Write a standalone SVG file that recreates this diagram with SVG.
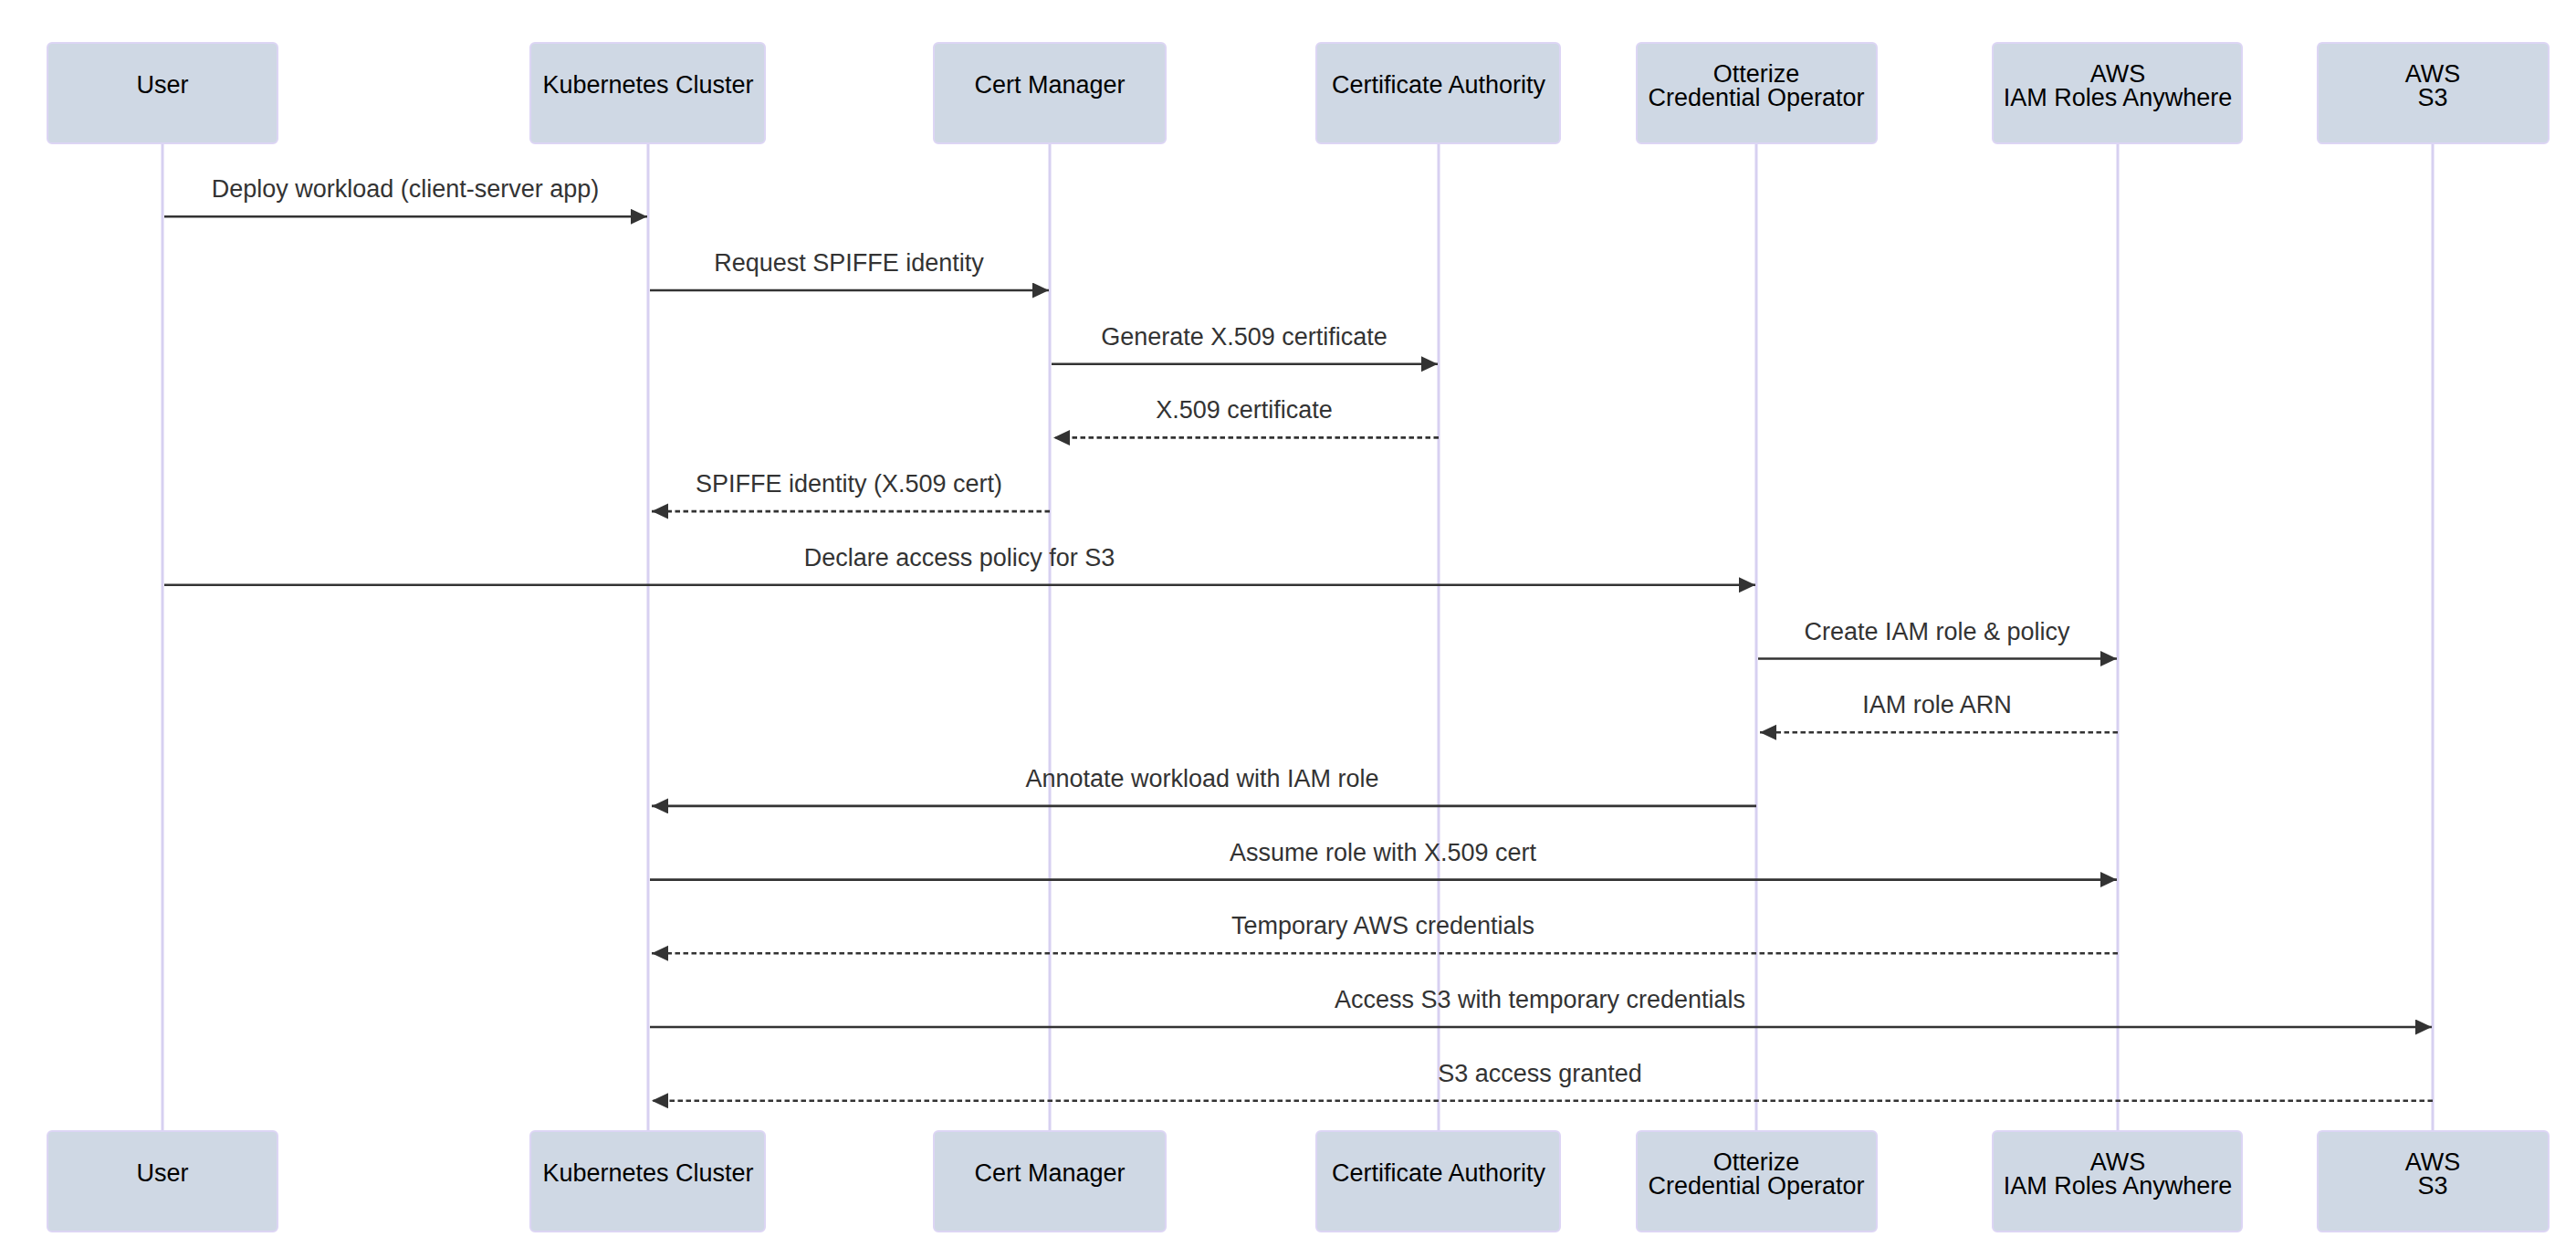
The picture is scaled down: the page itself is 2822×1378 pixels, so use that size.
<svg xmlns="http://www.w3.org/2000/svg" width="2822" height="1378" viewBox="0 0 2822 1378">
<style>
.actor rect{fill:#cfd8e4;stroke:#dcd5f4;stroke-width:2}
.actor text{font-family:"Liberation Sans",Arial,sans-serif;font-size:27px;fill:#000;text-anchor:middle}
.life{stroke:#d7d0f1;stroke-width:3}
.msg{stroke:#333;stroke-width:2.6;fill:none;marker-end:url(#ah)}
.dash{stroke-dasharray:5.5,3.5}
.lbl{font-family:"Liberation Sans",Arial,sans-serif;font-size:27px;fill:#333;text-anchor:middle}
</style>
<defs>
<marker id="ah" markerUnits="userSpaceOnUse" markerWidth="19" markerHeight="18" refX="18" refY="8.5" orient="auto">
<path d="M0,0 L18,8.5 L0,17 z" fill="#333"/>
</marker>
</defs>
<rect width="2822" height="1378" fill="#fff"/>
<g id="lifelines">
<line class="life" x1="178" y1="157" x2="178" y2="1239"/>
<line class="life" x1="710" y1="157" x2="710" y2="1239"/>
<line class="life" x1="1150" y1="157" x2="1150" y2="1239"/>
<line class="life" x1="1576" y1="157" x2="1576" y2="1239"/>
<line class="life" x1="1924" y1="157" x2="1924" y2="1239"/>
<line class="life" x1="2320" y1="157" x2="2320" y2="1239"/>
<line class="life" x1="2665" y1="157" x2="2665" y2="1239"/>
</g>
<g id="user" class="actor">
<rect x="52" y="47" width="252" height="110" rx="5"/><text x="178" y="102">User</text>
<rect x="52" y="1239" width="252" height="110" rx="5"/><text x="178" y="1294">User</text>
</g>
<g id="k8s" class="actor">
<rect x="581" y="47" width="257" height="110" rx="5"/><text x="710" y="102">Kubernetes Cluster</text>
<rect x="581" y="1239" width="257" height="110" rx="5"/><text x="710" y="1294">Kubernetes Cluster</text>
</g>
<g id="certmanager" class="actor">
<rect x="1023" y="47" width="254" height="110" rx="5"/><text x="1150" y="102">Cert Manager</text>
<rect x="1023" y="1239" width="254" height="110" rx="5"/><text x="1150" y="1294">Cert Manager</text>
</g>
<g id="ca" class="actor">
<rect x="1442" y="47" width="267" height="110" rx="5"/><text x="1576" y="102">Certificate Authority</text>
<rect x="1442" y="1239" width="267" height="110" rx="5"/><text x="1576" y="1294">Certificate Authority</text>
</g>
<g id="otterize" class="actor">
<rect x="1793" y="47" width="263" height="110" rx="5"/><text x="1924" y="90">Otterize</text><text x="1924" y="116">Credential Operator</text>
<rect x="1793" y="1239" width="263" height="110" rx="5"/><text x="1924" y="1282">Otterize</text><text x="1924" y="1308">Credential Operator</text>
</g>
<g id="iam" class="actor">
<rect x="2183" y="47" width="273" height="110" rx="5"/><text x="2320" y="90">AWS</text><text x="2320" y="116">IAM Roles Anywhere</text>
<rect x="2183" y="1239" width="273" height="110" rx="5"/><text x="2320" y="1282">AWS</text><text x="2320" y="1308">IAM Roles Anywhere</text>
</g>
<g id="s3" class="actor">
<rect x="2539" y="47" width="253" height="110" rx="5"/><text x="2665" y="90">AWS</text><text x="2665" y="116">S3</text>
<rect x="2539" y="1239" width="253" height="110" rx="5"/><text x="2665" y="1282">AWS</text><text x="2665" y="1308">S3</text>
</g>
<g id="connectors">
<line class="msg" x1="180" y1="237.3" x2="709" y2="237.3"/>
<text class="lbl" x="444" y="216.3">Deploy workload (client-server app)</text>
<line class="msg" x1="712" y1="318" x2="1149" y2="318"/>
<text class="lbl" x="930" y="297">Request SPIFFE identity</text>
<line class="msg" x1="1152" y1="398.7" x2="1575" y2="398.7"/>
<text class="lbl" x="1363" y="377.7">Generate X.509 certificate</text>
<line class="msg dash" x1="1576" y1="479.4" x2="1154" y2="479.4"/>
<text class="lbl" x="1363" y="458.4">X.509 certificate</text>
<line class="msg dash" x1="1150" y1="560.1" x2="714" y2="560.1"/>
<text class="lbl" x="930" y="539.1">SPIFFE identity (X.509 cert)</text>
<line class="msg" x1="180" y1="640.8" x2="1923" y2="640.8"/>
<text class="lbl" x="1051" y="619.8">Declare access policy for S3</text>
<line class="msg" x1="1926" y1="721.5" x2="2319" y2="721.5"/>
<text class="lbl" x="2122" y="700.5">Create IAM role &amp; policy</text>
<line class="msg dash" x1="2320" y1="802.2" x2="1928" y2="802.2"/>
<text class="lbl" x="2122" y="781.2">IAM role ARN</text>
<line class="msg" x1="1924" y1="882.9" x2="714" y2="882.9"/>
<text class="lbl" x="1317" y="861.9">Annotate workload with IAM role</text>
<line class="msg" x1="712" y1="963.6" x2="2319" y2="963.6"/>
<text class="lbl" x="1515" y="942.6">Assume role with X.509 cert</text>
<line class="msg dash" x1="2320" y1="1044.3" x2="714" y2="1044.3"/>
<text class="lbl" x="1515" y="1023.3">Temporary AWS credentials</text>
<line class="msg" x1="712" y1="1125" x2="2664" y2="1125"/>
<text class="lbl" x="1687" y="1104">Access S3 with temporary credentials</text>
<line class="msg dash" x1="2665" y1="1205.7" x2="714" y2="1205.7"/>
<text class="lbl" x="1687" y="1184.7">S3 access granted</text>
</g>
</svg>
